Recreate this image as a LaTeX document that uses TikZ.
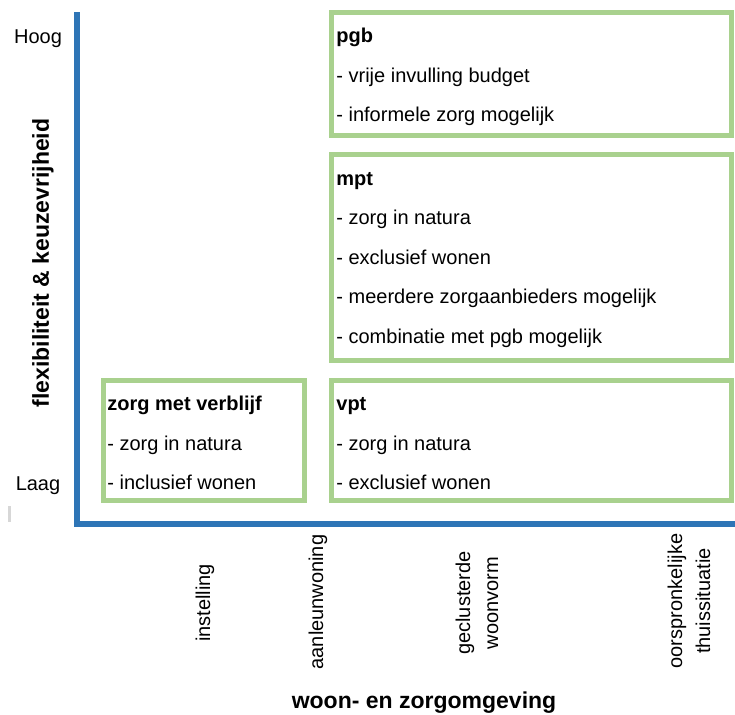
\documentclass[tikz,border=0pt]{standalone}
\usepackage{fontspec}
\setmainfont{Liberation Sans}
\usepackage{tikz}
\usepackage{xcolor}
\usetikzlibrary{positioning}
\definecolor{axisblue}{RGB}{46,117,182}
\definecolor{boxgreen}{RGB}{169,209,142}
\definecolor{ticklight}{RGB}{215,215,215}
\tikzstyle{zone}=[rectangle, draw=boxgreen, line width=2.5pt, inner sep=0pt]
\tikzstyle{axisline}=[draw=axisblue, line width=3pt]
\tikzstyle{boxtxt}=[anchor=base west, inner sep=0pt, font=\fontsize{10}{12}\selectfont]
\tikzstyle{boxhead}=[boxtxt, font=\fontsize{10}{12}\selectfont\bfseries]
\tikzstyle{xlab}=[rotate=90, align=center, inner sep=0pt,
  font=\fontsize{10}{14}\selectfont]
\tikzstyle{axtitle}=[inner sep=0pt, font=\fontsize{11.5}{13}\selectfont\bfseries]

\begin{document}
\begin{tikzpicture}[x=0.5pt, y=-0.5pt]
    \useasboundingbox (0,0) rectangle (735,714);
    % axes
    \coordinate (ytop) at (77,12);
    \coordinate (origin) at (77,524);
    \coordinate (xend) at (735,524);
    \draw[axisline] (ytop) -- (origin) -- (xend);
    \coordinate (tickA) at (9,506);
    \coordinate (tickB) at (9,522);
    \draw[ticklight, line width=1.5pt] (tickA) -- (tickB);
    \node[boxtxt, anchor=base] (hoog) at (38,43) {Hoog};
    \node[boxtxt, anchor=base] (laag) at (38,490) {Laag};
    \node[axtitle, rotate=90] (ylab) at (43,263) {flexibiliteit \& keuzevrijheid};
    % zones
    \node[zone, minimum width=200pt, minimum height=61.25pt]
      (pgb) at (531,73.75) {};
    \node[zone, minimum width=200pt, minimum height=103pt]
      (mpt) at (531,257) {};
    \node[zone, minimum width=200pt, minimum height=60pt]
      (vpt) at (531,440) {};
    \node[zone, minimum width=100.5pt, minimum height=60pt]
      (zmv) at (203.5,440) {};
    % pgb
    \node[boxhead] (pgbT) at (336,42) {pgb};
    \node[boxtxt] (pgbA) at (336,82) {- vrije invulling budget};
    \node[boxtxt] (pgbB) at (336,121) {- informele zorg mogelijk};
    % mpt
    \node[boxhead] (mptT) at (336,185) {mpt};
    \node[boxtxt] (mptA) at (336,224) {- zorg in natura};
    \node[boxtxt] (mptB) at (336,264) {- exclusief wonen};
    \node[boxtxt] (mptC) at (336,303) {- meerdere zorgaanbieders mogelijk};
    \node[boxtxt] (mptD) at (336,343) {- combinatie met pgb mogelijk};
    % vpt
    \node[boxhead] (vptT) at (336,410) {vpt};
    \node[boxtxt] (vptA) at (336,450) {- zorg in natura};
    \node[boxtxt] (vptB) at (336,489) {- exclusief wonen};
    % zorg met verblijf
    \node[boxhead] (zmvT) at (107,410) {zorg met verblijf};
    \node[boxtxt] (zmvA) at (107,450) {- zorg in natura};
    \node[boxtxt] (zmvB) at (107,489) {- inclusief wonen};
    % x categories
    \node[xlab] (inst) at (205,603) {instelling};
    \node[xlab] (aanl) at (318,602) {aanleunwoning};
    \node[xlab] (geclu) at (477,603) {geclusterde\\woonvorm};
    \node[xlab] (thuis) at (689,601) {oorspronkelijke\\thuissituatie};
    \node[axtitle] (xlab) at (424,703) {woon- en zorgomgeving};
  \end{tikzpicture}
\end{document}
